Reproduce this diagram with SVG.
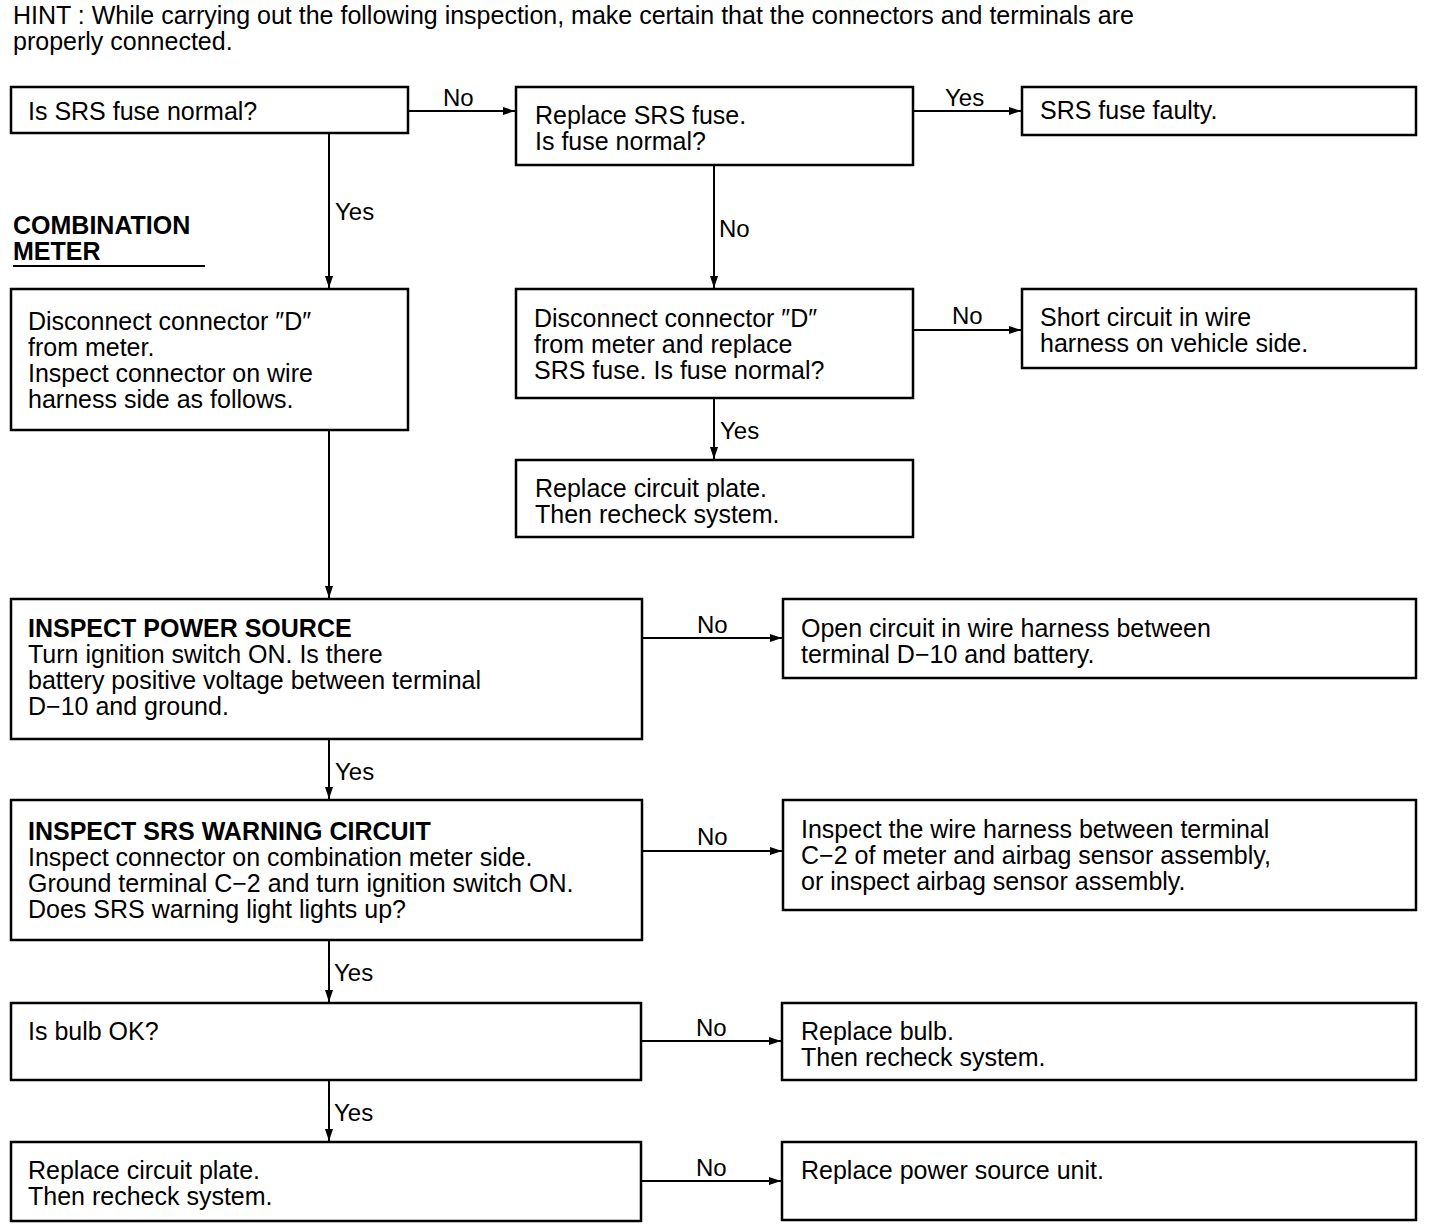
<svg xmlns="http://www.w3.org/2000/svg" width="1440" height="1230" viewBox="0 0 1440 1230">
<defs>
<marker id="ah" viewBox="0 0 12 8" refX="12" refY="4" markerWidth="12" markerHeight="8" markerUnits="userSpaceOnUse" orient="auto">
<path d="M0,0 L12,4 L0,8 Z" fill="#000"/>
</marker>
<style>
text{font-family:"Liberation Sans",Arial,sans-serif;font-size:25px;fill:#000}
.b{font-weight:bold}
.box{fill:#fff;stroke:#000;stroke-width:2.5}
.c{fill:none;stroke:#000;stroke-width:2;marker-end:url(#ah)}
.lbl{font-size:24px}
</style>
</defs>
<rect width="1440" height="1230" fill="#fff"/>
<g id="hint">
<text x="13" y="24">HINT : While carrying out the following inspection, make certain that the connectors and terminals are</text>
<text x="13" y="50">properly connected.</text>
</g>
<g id="section">
<text class="b" x="13" y="234">COMBINATION</text>
<text class="b" x="13" y="260">METER</text>
<line x1="13" y1="266" x2="205" y2="266" stroke="#000" stroke-width="2"/>
</g>
<g id="connectors">
<line class="c" x1="408" y1="111" x2="515" y2="111"/>
<text class="lbl" x="443" y="106">No</text>
<line class="c" x1="913" y1="111" x2="1021" y2="111"/>
<text class="lbl" x="945" y="106">Yes</text>
<line class="c" x1="329" y1="133" x2="329" y2="288"/>
<text class="lbl" x="335" y="220">Yes</text>
<line class="c" x1="714" y1="165" x2="714" y2="288"/>
<text class="lbl" x="719" y="237">No</text>
<line class="c" x1="913" y1="330" x2="1021" y2="330"/>
<text class="lbl" x="952" y="324">No</text>
<line class="c" x1="714" y1="398" x2="714" y2="459"/>
<text class="lbl" x="720" y="439">Yes</text>
<line class="c" x1="329" y1="430" x2="329" y2="598"/>
<line class="c" x1="642" y1="638" x2="782" y2="638"/>
<text class="lbl" x="697" y="633">No</text>
<line class="c" x1="329" y1="739" x2="329" y2="799"/>
<text class="lbl" x="335" y="780">Yes</text>
<line class="c" x1="642" y1="851" x2="782" y2="851"/>
<text class="lbl" x="697" y="845">No</text>
<line class="c" x1="329" y1="940" x2="329" y2="1002"/>
<text class="lbl" x="334" y="981">Yes</text>
<line class="c" x1="641" y1="1041" x2="781" y2="1041"/>
<text class="lbl" x="696" y="1036">No</text>
<line class="c" x1="329" y1="1080" x2="329" y2="1141"/>
<text class="lbl" x="334" y="1121">Yes</text>
<line class="c" x1="641" y1="1181" x2="781" y2="1181"/>
<text class="lbl" x="696" y="1176">No</text>
</g>
<g id="n1"><rect class="box" x="11" y="87" width="397" height="46"/>
<text x="28" y="120">Is SRS fuse normal?</text></g>
<g id="n2"><rect class="box" x="516" y="87" width="397" height="78"/>
<text x="535" y="124">Replace SRS fuse.</text>
<text x="535" y="150">Is fuse normal?</text></g>
<g id="n3"><rect class="box" x="1022" y="87" width="394" height="48"/>
<text x="1040" y="119">SRS fuse faulty.</text></g>
<g id="n4"><rect class="box" x="11" y="289" width="397" height="141"/>
<text x="28" y="330">Disconnect connector ″D″</text>
<text x="28" y="356">from meter.</text>
<text x="28" y="382">Inspect connector on wire</text>
<text x="28" y="408">harness side as follows.</text></g>
<g id="n5"><rect class="box" x="516" y="289" width="397" height="109"/>
<text x="534" y="327">Disconnect connector ″D″</text>
<text x="534" y="353">from meter and replace</text>
<text x="534" y="379">SRS fuse. Is fuse normal?</text></g>
<g id="n6"><rect class="box" x="1022" y="289" width="394" height="79"/>
<text x="1040" y="326">Short circuit in wire</text>
<text x="1040" y="352">harness on vehicle side.</text></g>
<g id="n7"><rect class="box" x="516" y="460" width="397" height="77"/>
<text x="535" y="497">Replace circuit plate.</text>
<text x="535" y="523">Then recheck system.</text></g>
<g id="n8"><rect class="box" x="11" y="599" width="631" height="140"/>
<text class="b" x="28" y="637">INSPECT POWER SOURCE</text>
<text x="28" y="663">Turn ignition switch ON. Is there</text>
<text x="28" y="689">battery positive voltage between terminal</text>
<text x="28" y="715">D−10 and ground.</text></g>
<g id="n9"><rect class="box" x="783" y="599" width="633" height="79"/>
<text x="801" y="637">Open circuit in wire harness between</text>
<text x="801" y="663">terminal D−10 and battery.</text></g>
<g id="n10"><rect class="box" x="11" y="800" width="631" height="140"/>
<text class="b" x="28" y="840">INSPECT SRS WARNING CIRCUIT</text>
<text x="28" y="866">Inspect connector on combination meter side.</text>
<text x="28" y="892">Ground terminal C−2 and turn ignition switch ON.</text>
<text x="28" y="918">Does SRS warning light lights up?</text></g>
<g id="n11"><rect class="box" x="783" y="800" width="633" height="110"/>
<text x="801" y="838">Inspect the wire harness between terminal</text>
<text x="801" y="864">C−2 of meter and airbag sensor assembly,</text>
<text x="801" y="890">or inspect airbag sensor assembly.</text></g>
<g id="n12"><rect class="box" x="11" y="1003" width="630" height="77"/>
<text x="28" y="1040">Is bulb OK?</text></g>
<g id="n13"><rect class="box" x="782" y="1003" width="634" height="77"/>
<text x="801" y="1040">Replace bulb.</text>
<text x="801" y="1066">Then recheck system.</text></g>
<g id="n14"><rect class="box" x="11" y="1142" width="630" height="79"/>
<text x="28" y="1179">Replace circuit plate.</text>
<text x="28" y="1205">Then recheck system.</text></g>
<g id="n15"><rect class="box" x="782" y="1142" width="634" height="78"/>
<text x="801" y="1179">Replace power source unit.</text></g>
</svg>
